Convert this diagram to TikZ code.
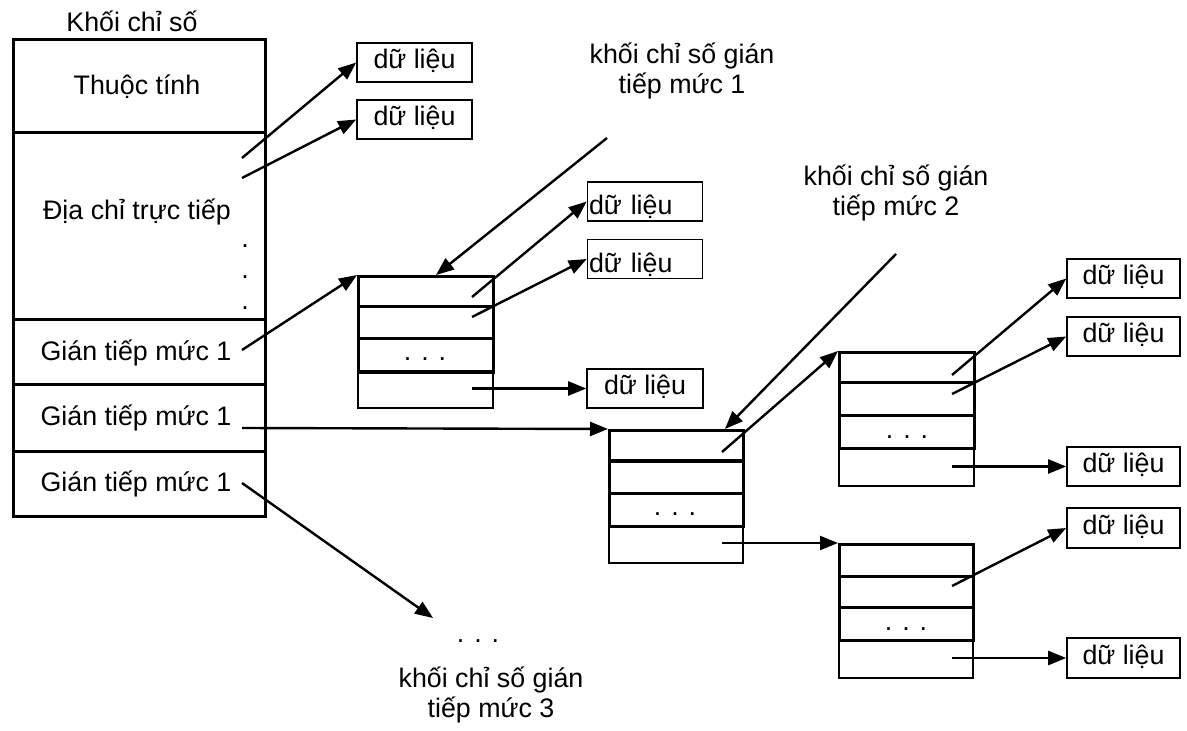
\documentclass[tikz,border=0pt]{standalone}
\usepackage{fontspec}
\setmainfont{Liberation Sans}
\usetikzlibrary{arrows.meta}
\begin{document}
\begin{tikzpicture}[x=0.5pt,y=-0.5pt,font=\fontsize{13.4}{14.6}\selectfont]
\tikzset{
 dbox/.style={draw, line width=0.8pt, minimum width=57.5pt, minimum height=19.5pt, inner sep=0pt, text height=9.75pt, text depth=3.25pt},
 dboxl/.style={draw, line width=0.8pt, minimum height=19.5pt, text width=56pt, inner xsep=0.75pt, inner ysep=0pt, align=left, text height=13.5pt, text depth=0pt},
 lrow/.style={draw, line width=1.4pt, minimum width=126pt, inner sep=0pt, anchor=north west},
 blk/.style={draw, line width=1.5pt, minimum width=67.5pt, minimum height=48pt, inner sep=0pt, anchor=north west},
 blkb/.style={draw, line width=1pt, minimum width=67.5pt, minimum height=18.5pt, inner sep=0pt, anchor=north west},
 arr/.style={line width=1.2pt, -{Triangle[length=9pt,width=7pt]}},
 txt/.style={inner sep=0pt, anchor=base},
 lbl/.style={inner sep=0pt, align=center},
}
\useasboundingbox (0,0) rectangle (1187,731);

% ---------- left index block ----------
\node[txt] (title) at (132,32) {Khối chỉ số};
\node[lrow, minimum height=46.5pt] (A1) at (12,38) {};
\node[lrow, minimum height=93.5pt] (A2) at (12,131) {};
\node[lrow, minimum height=32.5pt] (A3) at (12,318) {};
\node[lrow, minimum height=33.5pt] (A4) at (12,383) {};
\node[lrow, minimum height=32.5pt] (A5) at (12,450) {};
\node[txt] (t1) at (137,95) {Thuộc tính};
\node[txt] (t2) at (137,220) {Địa chỉ trực tiếp};
\node[txt] (v1) at (245,248) {.};
\node[txt] (v2) at (245,279) {.};
\node[txt] (v3) at (245,310) {.};
\node[txt] (t3) at (136,361) {Gián tiếp mức 1};
\node[txt] (t4) at (136,426) {Gián tiếp mức 1};
\node[txt] (t5) at (136,491) {Gián tiếp mức 1};

% ---------- data boxes ----------
\node[dbox] (D1) at (414.5,62.5) {dữ liệu};
\node[dbox] (D2) at (414.5,119.5) {dữ liệu};
\node[dboxl] (D3) at (645,201.5) {dữ liệu};
\node[dboxl] (D4) at (645,259) {dữ liệu};
\node[dbox, minimum width=58pt] (D5) at (645,388.5) {dữ liệu};
\node[dbox, minimum width=56.5pt] (D6) at (1123.5,278.5) {dữ liệu};
\node[dbox, minimum width=56.5pt] (D7) at (1123.5,336.5) {dữ liệu};
\node[dbox, minimum width=56.5pt] (D8) at (1123.5,466.5) {dữ liệu};
\node[dbox, minimum width=56.5pt, minimum height=20pt] (D9) at (1123.5,528) {dữ liệu};
\node[dbox, minimum width=56.5pt, minimum height=20pt] (D10) at (1123.5,658) {dữ liệu};

% ---------- index blocks ----------
% block 1
\node[blkb] (B1b) at (357,370) {};
\node[blk] (B1) at (357,275) {};
\draw[line width=1.5pt] (357,307) -- (492,307) (357,339) -- (492,339);
\node[txt] (d1) at (425,361) {. . .};
% block 2
\node[blkb, minimum width=67pt] (B2b) at (608,525) {};
\node[blk, minimum width=67pt] (B2) at (608,429) {};
\draw[line width=1.5pt] (608,461) -- (742,461) (608,493) -- (742,493);
\node[txt] (d2) at (675,515) {. . .};
% block 3
\node[blkb, minimum height=19pt] (B3b) at (838,447) {};
\node[blk] (B3) at (838,351) {};
\draw[line width=1.5pt] (838,383) -- (973,383) (838,416) -- (973,416);
\node[txt] (d3) at (907,438) {. . .};
% block 4
\node[blkb, minimum width=67pt, minimum height=19pt] (B4b) at (838,639) {};
\node[blk, minimum width=67pt] (B4) at (838,543) {};
\draw[line width=1.5pt] (838,576) -- (972,576) (838,607) -- (972,607);
\node[txt] (d4) at (906,630) {. . .};

% ---------- labels ----------
\node[lbl] (L1) at (682,71) {khối chỉ số gián\\tiếp mức 1};
\node[lbl] (L2) at (896,193) {khối chỉ số gián\\tiếp mức 2};
\node[lbl] (L3) at (491,695) {khối chỉ số gián\\tiếp mức 3};
\node[txt] (d5) at (478,642) {. . .};

% ---------- connector endpoints ----------
\coordinate (a1) at (242,158);
\coordinate (a2) at (242,178);
\coordinate (a3) at (242,350);
\coordinate (a4) at (242,428);
\coordinate (a5) at (242,483);
\coordinate (e5) at (433,618);
\coordinate (l1) at (607,138);
\coordinate (k1) at (436,275);
\coordinate (l2) at (896,254);
\coordinate (k2) at (725,429);
\coordinate (b11) at (472,297);
\coordinate (b12) at (472,317);
\coordinate (b14) at (472,388.5);
\coordinate (b21) at (722,452);
\coordinate (b24) at (722,543);
\coordinate (b31) at (952,375);
\coordinate (b32) at (952,394);
\coordinate (b34) at (952,466.5);
\coordinate (b42) at (952,586);
\coordinate (b44) at (952,658);

% ---------- connectors ----------
\draw[arr] (a1) -- (D1.west);
\draw[arr] (a2) -- (D2.west);
\draw[arr] (a3) -- (B1.north west);
\draw[arr] (a4) -- (B2.north west);
\draw[arr] (a5) -- (e5);
\draw[arr] (l1) -- (k1);
\draw[arr] (l2) -- (k2);
\draw[arr] (b11) -- (D3.west);
\draw[arr] (b12) -- (D4.west);
\draw[arr] (b14) -- (D5.west);
\draw[arr] (b21) -- (B3.north west);
\draw[arr] (b24) -- (B4.north west);
\draw[arr] (b31) -- (D6.west);
\draw[arr] (b32) -- (D7.west);
\draw[arr] (b34) -- (D8.west);
\draw[arr] (b42) -- (D9.west);
\draw[arr] (b44) -- (D10.west);
\end{tikzpicture}
\end{document}
